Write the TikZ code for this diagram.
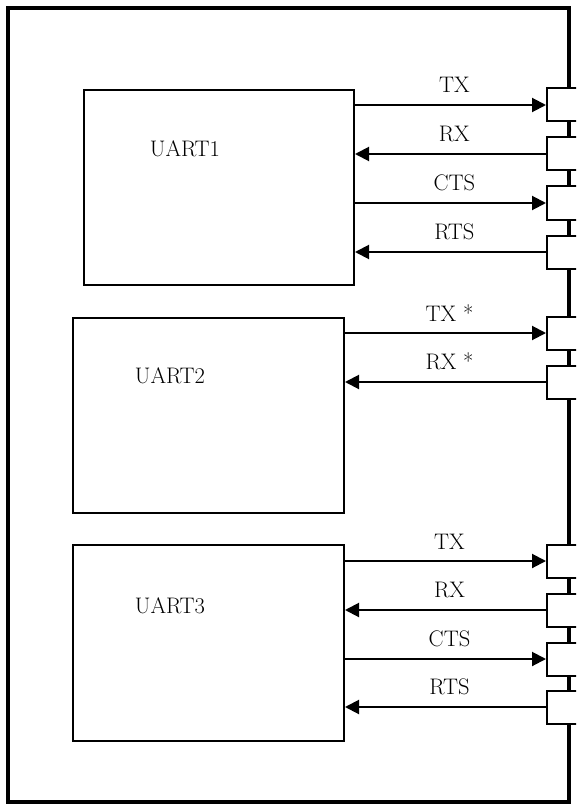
\documentclass[tikz,border=0pt]{standalone}
\usetikzlibrary{arrows.meta,calc}
\begin{document}
\begin{tikzpicture}[x=1pt,y=-1pt,
  txt/.style={font=\fontsize{22.5}{27}\selectfont},
  uart/.style={draw,line width=2pt,inner sep=0pt,anchor=north west},
  pin/.style={draw,line width=2pt,fill=white,minimum width=44pt,minimum height=33pt,inner sep=0pt},
  sig/.style={line width=2pt,-{Triangle[length=14pt,width=14pt]}},
  sl/.style={txt,above=11pt,inner sep=0pt,pos=0.52}]
\useasboundingbox (0,0) rectangle (576,805);
\clip (0,0) rectangle (576,805);
% frame
\draw[line width=3.5pt] (8,8) rectangle (569,802);
% UART boxes
\node[uart,minimum width=270pt,minimum height=195pt] (u1) at (83,89) {};
\node[uart,minimum width=271pt,minimum height=195pt] (u2) at (72,317) {};
\node[uart,minimum width=271pt,minimum height=196pt] (u3) at (72,544) {};
\node[txt] (l1) at (185,149) {UART1};
\node[txt] (l2) at (170,376) {UART2};
\node[txt] (l3) at (170,606) {UART3};
% pins
\node[pin] (p1) at (569,105) {};
\node[pin] (p2) at (569,154) {};
\node[pin] (p3) at (569,203) {};
\node[pin] (p4) at (569,252) {};
\node[pin] (p5) at (569,333) {};
\node[pin] (p6) at (569,382) {};
\node[pin] (p7) at (569,561) {};
\node[pin] (p8) at (569,610) {};
\node[pin] (p9) at (569,659) {};
\node[pin] (p10) at (569,707) {};
% signals
\draw[sig] (p1.west -| u1.east) -- node[sl]{TX} (p1.west);
\draw[sig] (p2.west) -- node[sl,pos=0.48]{RX} (p2.west -| u1.east);
\draw[sig] (p3.west -| u1.east) -- node[sl]{CTS} (p3.west);
\draw[sig] (p4.west) -- node[sl,pos=0.48]{RTS} (p4.west -| u1.east);
\draw[sig] (p5.west -| u2.east) -- node[sl]{TX *} (p5.west);
\draw[sig] (p6.west) -- node[sl,pos=0.48]{RX *} (p6.west -| u2.east);
\draw[sig] (p7.west -| u3.east) -- node[sl]{TX} (p7.west);
\draw[sig] (p8.west) -- node[sl,pos=0.48]{RX} (p8.west -| u3.east);
\draw[sig] (p9.west -| u3.east) -- node[sl]{CTS} (p9.west);
\draw[sig] (p10.west) -- node[sl,pos=0.48]{RTS} (p10.west -| u3.east);
\end{tikzpicture}
\end{document}
